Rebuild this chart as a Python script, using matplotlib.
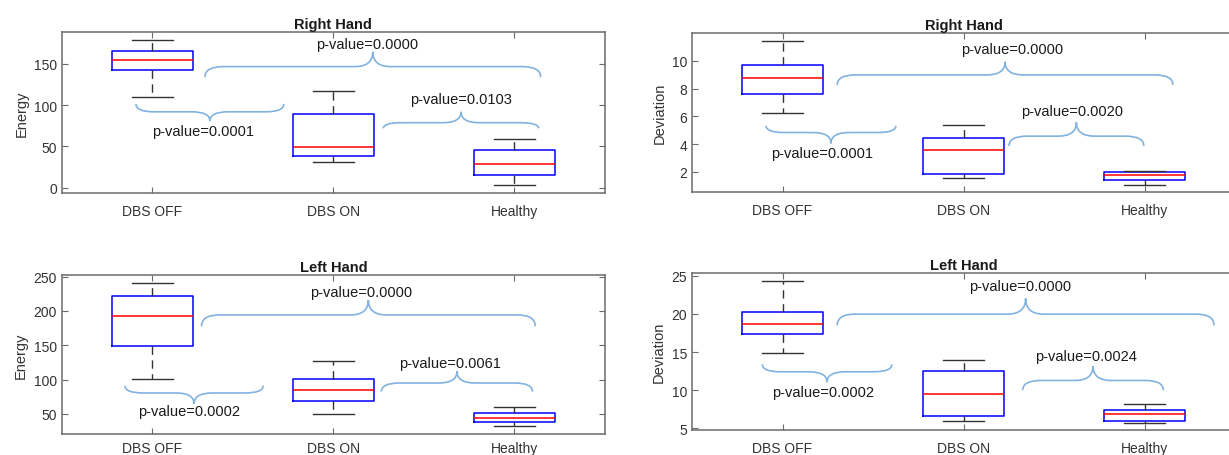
import numpy as np
import matplotlib
matplotlib.use('Agg')
import matplotlib.pyplot as plt
from matplotlib.path import Path
from matplotlib.patches import PathPatch

plt.rcParams['font.family'] = ['Liberation Sans', 'DejaVu Sans']

##Donnees
categories = ['DBS OFF', 'DBS ON', 'Healthy']

# energie main droite
energie_d_haut = [179.2, 116.8, 59.2]
energie_d_q3 = [166.0, 89.6, 46.0]
energie_d_med = [154.4, 49.6, 28.4]
energie_d_q1 = [142.4, 38.0, 16.0]
energie_d_bas = [109.6, 30.8, 3.6]
pval_energie_d = ['0.0000', '0.0001', '0.0103']

# deviation main droite
dev_d_haut = [11.40, 5.40, 2.07]
dev_d_q3 = [9.71, 4.43, 2.00]
dev_d_med = [8.76, 3.55, 1.79]
dev_d_q1 = [7.62, 1.86, 1.43]
dev_d_bas = [6.21, 1.55, 1.07]
pval_dev_d = ['0.0000', '0.0001', '0.0020']

# energie main gauche
energie_g_haut = [241.3, 126.7, 59.7]
energie_g_q3 = [221.4, 100.5, 51.5]
energie_g_med = [192.3, 85.0, 44.7]
energie_g_q1 = [149.5, 69.4, 38.8]
energie_g_bas = [101.0, 50.0, 32.0]
pval_energie_g = ['0.0000', '0.0002', '0.0061']

# deviation main gauche
dev_g_haut = [24.34, 13.90, 8.16]
dev_g_q3 = [20.20, 12.46, 7.41]
dev_g_med = [18.68, 9.52, 6.89]
dev_g_q1 = [17.32, 6.67, 6.01]
dev_g_bas = [14.91, 5.96, 5.75]
pval_dev_g = ['0.0000', '0.0002', '0.0024']

##accolades : (x debut, x fin, y bouts, y ligne, y pointe, x texte, y texte)
acc_energie_d = [(1.29, 3.145, 134, 146.8, 164.8, 2.187, 174),
                 (0.909, 1.726, 101.6, 92, 80.8, 1.279, 68.8),
                 (2.276, 3.134, 72, 78.8, 92, 2.703, 108)]
acc_dev_d = [(1.302, 3.157, 8.26, 8.98, 9.93, 2.269, 10.83),
             (0.909, 1.626, 5.31, 4.83, 4.05, 1.22, 3.38),
             (2.251, 2.996, 3.86, 4.57, 5.57, 2.60, 6.36)]
acc_energie_g = [(1.271, 3.115, 177.7, 194.2, 216, 2.154, 227),
                 (0.848, 1.612, 91.3, 80.6, 64.6, 1.20, 55),
                 (2.265, 3.10, 82.5, 95.1, 112, 2.644, 124)]
acc_dev_g = [(1.302, 3.384, 18.5, 19.96, 22.02, 2.31, 23.68),
             (0.888, 1.604, 13.38, 12.41, 11.05, 1.224, 9.74),
             (2.327, 3.104, 10.0, 11.27, 13.16, 2.676, 14.47)]

gris_axe = '#6b6b6b'
bleu_acc = '#82B2E0'


def accolade(ax, x0, x1, yb, yl, yp, d=0.1):
    xm = (x0 + x1) / 2
    verts = [(x0, yb), (x0, yl), (x0 + d, yl),
             (xm - d, yl), (xm, yl), (xm, yp),
             (xm, yl), (xm + d, yl),
             (x1 - d, yl), (x1, yl), (x1, yb)]
    codes = [Path.MOVETO, Path.CURVE3, Path.CURVE3,
             Path.LINETO, Path.CURVE3, Path.CURVE3,
             Path.CURVE3, Path.CURVE3,
             Path.LINETO, Path.CURVE3, Path.CURVE3]
    ax.add_patch(PathPatch(Path(verts, codes), fill=False, ec=bleu_acc, lw=1.2))


def panneau(pos, titre, ylab, haut, q3, med, q1, bas, pvals, accs, ylim, yticks, xpad=8):
    ax = fig.add_axes(pos)
    stats = []
    for k in range(3):
        stats.append({'med': med[k], 'q1': q1[k], 'q3': q3[k],
                      'whislo': bas[k], 'whishi': haut[k], 'fliers': []})
    ax.bxp(stats, positions=[1, 2, 3], widths=0.45, capwidths=0.225,
           boxprops=dict(color='blue', lw=1.1),
           medianprops=dict(color='red', lw=1.1),
           whiskerprops=dict(color='#333333', lw=1.0, linestyle=(0, (6, 4))),
           capprops=dict(color='#333333', lw=1.0))
    for (x0, x1, yb, yl, yp, xt, yt), p in zip(accs, pvals):
        accolade(ax, x0, x1, yb, yl, yp)
        ax.text(xt, yt, 'p-value=' + p, ha='center', va='center',
                fontsize=10.5, color='#1a1a1a')
    ax.set_xlim(0.5, 3.5)
    ax.set_ylim(*ylim)
    ax.set_yticks(yticks)
    ax.set_xticks([1, 2, 3])
    ax.set_xticklabels(categories)
    ax.set_title(titre, fontsize=10.5, fontweight='bold', pad=3, color='#1a1a1a')
    ax.set_ylabel(ylab, fontsize=10.5, color='#333333', labelpad=4)
    ax.tick_params(direction='in', top=True, right=True, length=4,
                   color=gris_axe, labelsize=10, labelcolor='#333333')
    ax.tick_params(axis='x', pad=xpad)
    for s in ax.spines.values():
        s.set_color(gris_axe)
        s.set_linewidth(1.1)
    return ax


fig = plt.figure(figsize=(12.29, 4.56), dpi=100)

panneau([0.0504, 0.5746, 0.4418, 0.3531], 'Right Hand', 'Energy',
        energie_d_haut, energie_d_q3, energie_d_med, energie_d_q1, energie_d_bas,
        pval_energie_d, acc_energie_d, (-6.4, 188.8), [0, 50, 100, 150])
panneau([0.5631, 0.5768, 0.4418, 0.3487], 'Right Hand', 'Deviation',
        dev_d_haut, dev_d_q3, dev_d_med, dev_d_q1, dev_d_bas,
        pval_dev_d, acc_dev_d, (0.55, 12.0), [2, 4, 6, 8, 10])
panneau([0.0504, 0.0461, 0.4418, 0.3487], 'Left Hand', 'Energy',
        energie_g_haut, energie_g_q3, energie_g_med, energie_g_q1, energie_g_bas,
        pval_energie_g, acc_energie_g, (20.9, 252.4), [50, 100, 150, 200, 250], xpad=5)
panneau([0.5631, 0.0548, 0.4418, 0.3443], 'Left Hand', 'Deviation',
        dev_g_haut, dev_g_q3, dev_g_med, dev_g_q1, dev_g_bas,
        pval_dev_g, acc_dev_g, (4.78, 25.35), [5, 10, 15, 20, 25])

fig.savefig('out.png', dpi=100)
